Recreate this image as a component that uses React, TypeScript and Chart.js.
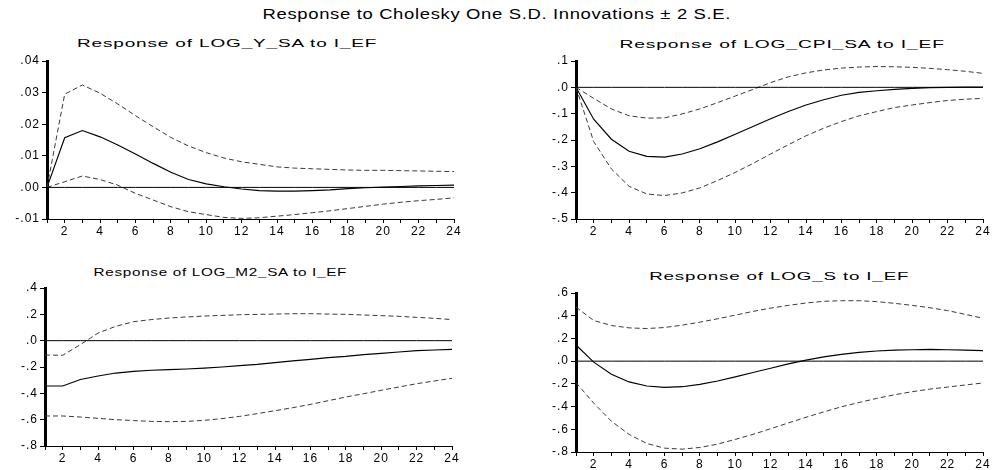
import React, { useEffect, useLayoutEffect, useRef, useState } from "react";
import { Chart, registerables } from "chart.js";

Chart.register(...registerables);

// ---------- data ----------
const periods = [1, 2, 3, 4, 5, 6, 7, 8, 9, 10, 11, 12, 13, 14, 15, 16, 17, 18, 19, 20, 21, 22, 23, 24];

const mainTitle = "Response to Cholesky One S.D. Innovations \u00b1 2 S.E.";

const title1 = "Response of LOG_Y_SA to I_EF";
const resp1 = [0, 0.0157, 0.018, 0.016, 0.0134, 0.0106, 0.0076, 0.0048, 0.0025, 0.0011, 0.0002, -0.0005, -0.001, -0.0012, -0.0012, -0.001, -0.0008, -0.0004, -0.0001, 0.0001, 0.0003, 0.0005, 0.0006, 0.0007];
const upper1 = [0, 0.0295, 0.0324, 0.0298, 0.0264, 0.0227, 0.0192, 0.0158, 0.0131, 0.011, 0.0093, 0.0081, 0.0073, 0.0065, 0.0061, 0.0059, 0.0057, 0.0055, 0.0054, 0.0054, 0.0053, 0.0052, 0.0051, 0.005];
const lower1 = [0, 0.0018, 0.0036, 0.0025, 0.0007, -0.0019, -0.004, -0.0061, -0.0077, -0.0086, -0.0095, -0.0098, -0.0096, -0.0091, -0.0086, -0.008, -0.0074, -0.0067, -0.006, -0.0053, -0.0047, -0.0042, -0.0038, -0.0033];
const yTicks1 = [-0.01, 0, 0.01, 0.02, 0.03, 0.04];

const title2 = "Response of LOG_CPI_SA to I_EF";
const resp2 = [0, -0.121, -0.197, -0.243, -0.262, -0.265, -0.253, -0.233, -0.207, -0.178, -0.149, -0.119, -0.092, -0.067, -0.047, -0.03, -0.019, -0.013, -0.008, -0.004, -0.001, 0, 0.001, 0.001];
const upper2 = [0, -0.042, -0.082, -0.108, -0.117, -0.116, -0.101, -0.082, -0.058, -0.033, -0.008, 0.018, 0.04, 0.055, 0.066, 0.073, 0.077, 0.079, 0.078, 0.076, 0.072, 0.067, 0.061, 0.053];
const lower2 = [0, -0.206, -0.31, -0.376, -0.405, -0.411, -0.401, -0.382, -0.354, -0.323, -0.289, -0.253, -0.218, -0.184, -0.155, -0.13, -0.108, -0.092, -0.077, -0.067, -0.058, -0.05, -0.045, -0.042];
const yTicks2 = [-0.5, -0.4, -0.3, -0.2, -0.1, 0, 0.1];

const title3 = "Response of LOG_M2_SA to I_EF";
const resp3 = [-0.344, -0.344, -0.295, -0.268, -0.246, -0.233, -0.225, -0.22, -0.215, -0.208, -0.2, -0.19, -0.18, -0.167, -0.154, -0.142, -0.129, -0.119, -0.106, -0.096, -0.086, -0.076, -0.071, -0.066];
const upper3 = [-0.109, -0.111, -0.03, 0.058, 0.109, 0.144, 0.16, 0.172, 0.18, 0.187, 0.192, 0.197, 0.2, 0.202, 0.205, 0.205, 0.202, 0.2, 0.195, 0.19, 0.185, 0.177, 0.17, 0.16];
const lower3 = [-0.572, -0.572, -0.58, -0.59, -0.6, -0.607, -0.613, -0.615, -0.613, -0.605, -0.592, -0.575, -0.554, -0.532, -0.509, -0.484, -0.456, -0.428, -0.403, -0.377, -0.352, -0.327, -0.306, -0.286];
const yTicks3 = [-0.8, -0.6, -0.4, -0.2, 0, 0.2, 0.4];

const title4 = "Response of LOG_S to I_EF";
const resp4 = [0.142, -0.009, -0.115, -0.183, -0.219, -0.231, -0.225, -0.204, -0.175, -0.139, -0.1, -0.062, -0.024, 0.009, 0.038, 0.059, 0.077, 0.089, 0.097, 0.1, 0.103, 0.1, 0.097, 0.092];
const upper4 = [0.476, 0.358, 0.314, 0.293, 0.287, 0.296, 0.317, 0.343, 0.373, 0.405, 0.438, 0.467, 0.491, 0.512, 0.527, 0.532, 0.532, 0.524, 0.509, 0.491, 0.47, 0.445, 0.412, 0.378];
const lower4 = [-0.189, -0.369, -0.529, -0.645, -0.725, -0.766, -0.775, -0.76, -0.731, -0.689, -0.645, -0.595, -0.544, -0.494, -0.447, -0.402, -0.364, -0.328, -0.296, -0.269, -0.246, -0.228, -0.21, -0.192];
const yTicks4 = [-0.8, -0.6, -0.4, -0.2, 0, 0.2, 0.4, 0.6];

// ---------- helpers ----------
const FONT = "'Liberation Sans', Arial, Helvetica, sans-serif";

function fmt(v: number, d: number): string {
  const x = Math.abs(v) < 1e-9 ? 0 : v;
  const s = x.toFixed(d);
  return s.replace(/^(-?)0\./, "$1.");
}

type Rect = { L: number; R: number; T: number; B: number };

const spacingPlugin = {
  id: "letterSpacing",
  beforeUpdate(chart: any) {
    chart.ctx.letterSpacing = "1px";
  },
  beforeDraw(chart: any) {
    chart.ctx.letterSpacing = "1px";
  },
};

function Panel(props: {
  rect: Rect;
  resp: number[];
  upper: number[];
  lower: number[];
  yTicks: number[];
  decimals: number;
}) {
  const ref = useRef<HTMLCanvasElement>(null);
  const { rect, resp, upper, lower, yTicks, decimals } = props;
  const AXW = 50;
  const PADT = 10;
  const PADR = 14;
  const XH = 22;
  const left = rect.L - AXW;
  const top = rect.T - PADT;
  const width = rect.R - rect.L + AXW + PADR;
  const height = rect.B - rect.T + PADT + XH;

  useEffect(() => {
    const zero = periods.map(() => 0);
    const chart = new Chart(ref.current as HTMLCanvasElement, {
      type: "line",
      data: {
        labels: periods.map(String),
        datasets: [
          { data: zero, borderColor: "#000", borderWidth: 1, pointRadius: 0, tension: 0 },
          { data: lower, borderColor: "#3a3a3a", borderWidth: 1, borderDash: [5, 3], pointRadius: 0, tension: 0 },
          { data: upper, borderColor: "#3a3a3a", borderWidth: 1, borderDash: [5, 3], pointRadius: 0, tension: 0 },
          { data: resp, borderColor: "#000", borderWidth: 1.15, pointRadius: 0, tension: 0 },
        ],
      },
      options: {
        responsive: false,
        animation: false,
        events: [],
        layout: { padding: { left: 0, top: PADT, right: PADR, bottom: 0 } },
        plugins: {
          legend: { display: false },
          tooltip: { enabled: false },
          title: { display: false },
        },
        scales: {
          x: {
            type: "category",
            offset: false,
            grid: { display: true, drawOnChartArea: false, drawTicks: true, tickLength: 4, color: "#000", lineWidth: 1, offset: false },
            border: { display: true, color: "#000", width: 1 },
            ticks: {
              autoSkip: false,
              maxRotation: 0,
              minRotation: 0,
              padding: 1,
              color: "#000",
              font: { family: FONT, size: 12 },
              callback: (_v: any, i: number) => (periods[i] % 2 === 0 ? String(periods[i]) : ""),
            },
            afterFit: (a: any) => {
              a.height = XH;
            },
          },
          y: {
            type: "linear",
            min: yTicks[0],
            max: yTicks[yTicks.length - 1],
            grid: { display: true, drawOnChartArea: false, drawTicks: true, tickLength: 5, color: "#000", lineWidth: 1 },
            border: { display: true, color: "#000", width: 3 },
            ticks: {
              padding: 2,
              color: "#000",
              font: { family: FONT, size: 12 },
              callback: (v: any) => fmt(Number(v), decimals),
            },
            afterBuildTicks: (a: any) => {
              a.ticks = yTicks.map((v) => ({ value: v }));
            },
            afterFit: (a: any) => {
              a.width = AXW;
            },
          },
        },
      } as any,
      plugins: [spacingPlugin],
    });
    return () => chart.destroy();
  }, []);

  return (
    <canvas
      ref={ref}
      width={width}
      height={height}
      style={{ position: "absolute", left, top, width, height }}
    />
  );
}

function Title(props: { text: string; cx: number; cy: number; w: number; size: number }) {
  const { text, cx, cy, w, size } = props;
  const ref = useRef<HTMLSpanElement>(null);
  const [scale, setScale] = useState(1);
  useLayoutEffect(() => {
    const el = ref.current;
    if (el && el.offsetWidth > 0) setScale(w / el.offsetWidth);
  }, []);
  return (
    <div
      style={{
        position: "absolute",
        left: cx - 400,
        top: cy - size / 2,
        width: 800,
        textAlign: "center",
        fontFamily: FONT,
        fontSize: size,
        lineHeight: `${size}px`,
        whiteSpace: "nowrap",
        color: "#000",
      }}
    >
      <span ref={ref} style={{ display: "inline-block", letterSpacing: "0.5px", transform: `scaleX(${scale})`, transformOrigin: "center" }}>
        {text}
      </span>
    </div>
  );
}

export default function App() {
  return (
    <div
      style={{
        position: "absolute",
        left: 0,
        top: 0,
        width: 993,
        height: 470,
        overflow: "hidden",
        background: "#fff",
      }}
    >
      <Title text={mainTitle} cx={496.5} cy={14} w={469} size={14} />
      <Title text={title1} cx={227} cy={43} w={300} size={11} />
      <Title text={title2} cx={782.5} cy={44.5} w={325} size={11} />
      <Title text={title3} cx={220} cy={272} w={254} size={11} />
      <Title text={title4} cx={779.5} cy={276.5} w={261} size={11} />
      <Panel rect={{ L: 47, R: 454, T: 61, B: 219 }} resp={resp1} upper={upper1} lower={lower1} yTicks={yTicks1} decimals={2} />
      <Panel rect={{ L: 576, R: 983, T: 61, B: 219 }} resp={resp2} upper={upper2} lower={lower2} yTicks={yTicks2} decimals={1} />
      <Panel rect={{ L: 45, R: 452, T: 288, B: 446 }} resp={resp3} upper={upper3} lower={lower3} yTicks={yTicks3} decimals={1} />
      <Panel rect={{ L: 576, R: 983, T: 293, B: 452 }} resp={resp4} upper={upper4} lower={lower4} yTicks={yTicks4} decimals={1} />
    </div>
  );
}
